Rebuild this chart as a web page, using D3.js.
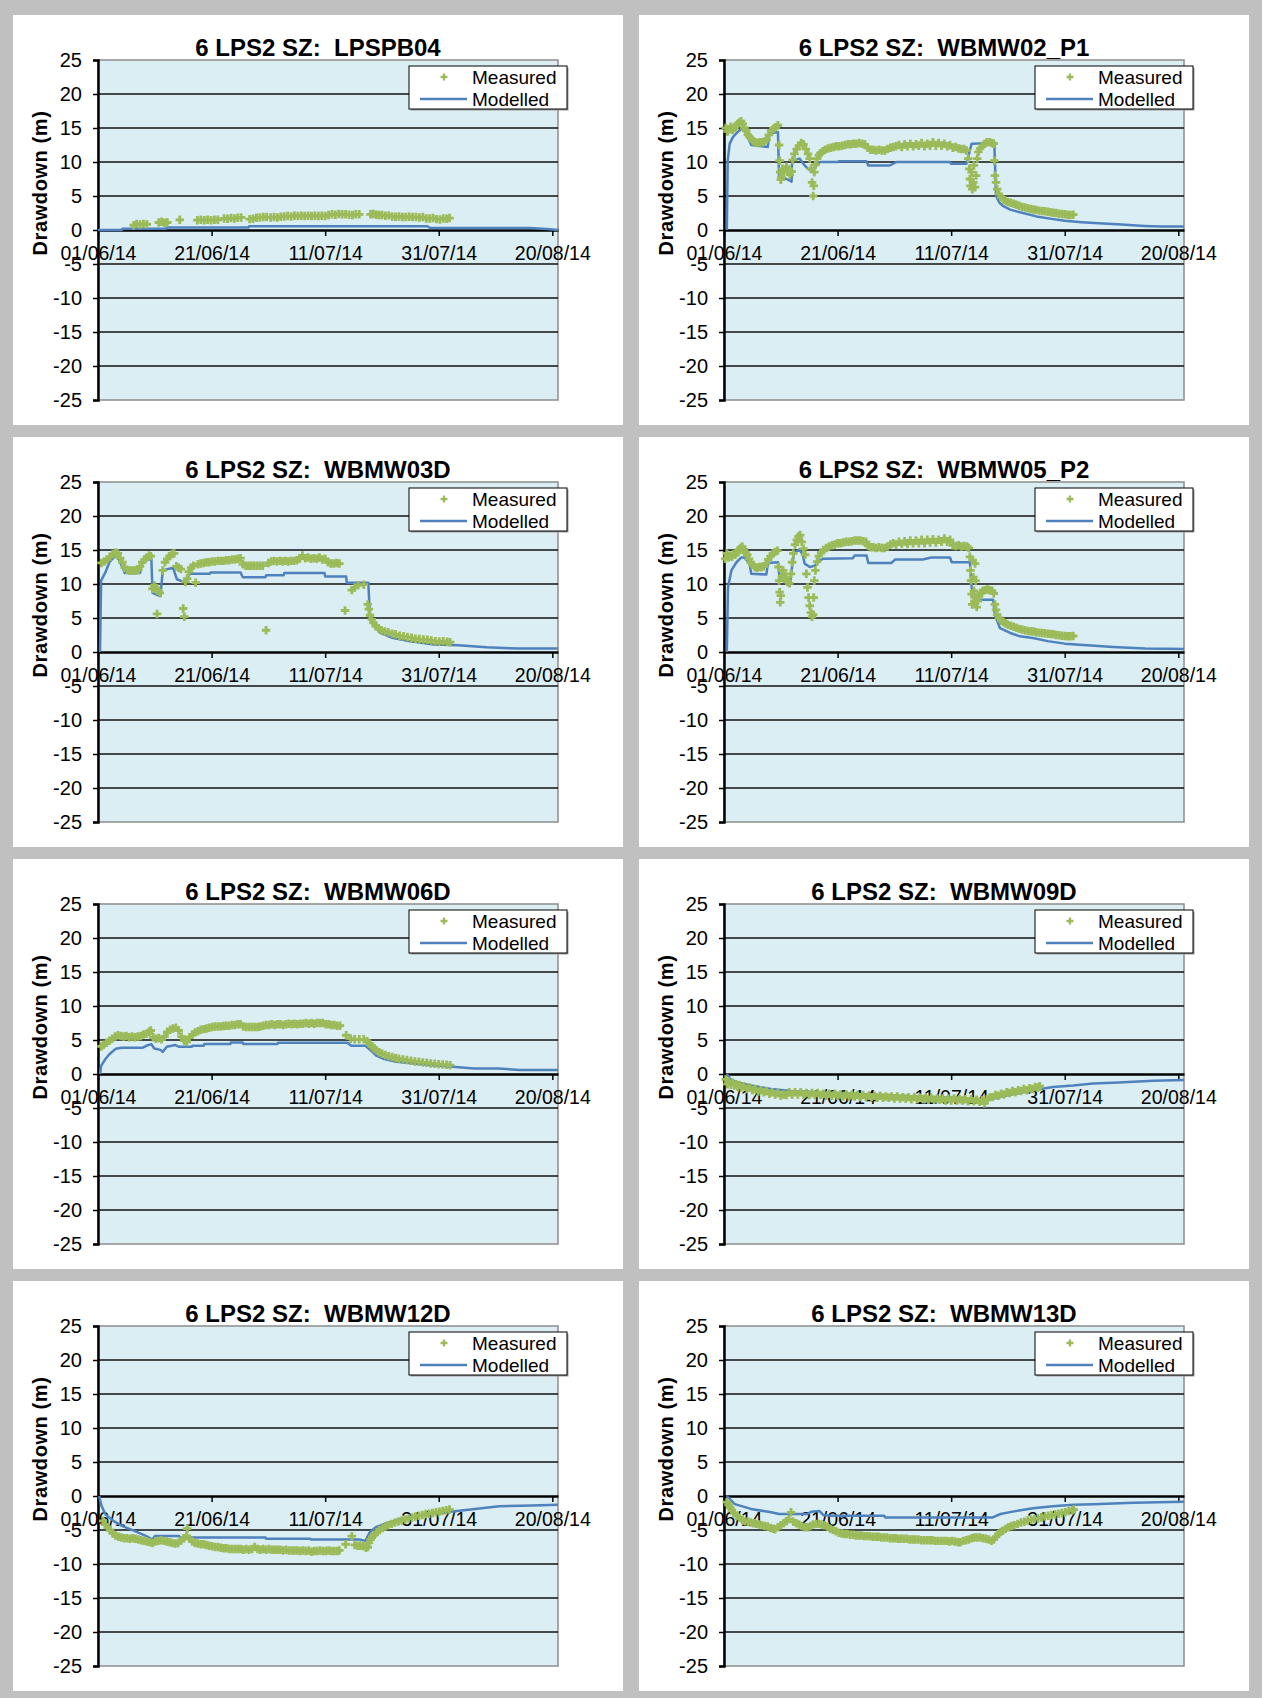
<!DOCTYPE html>
<html>
<head>
<meta charset="utf-8">
<script src="https://cdn.jsdelivr.net/npm/d3@7"></script>
<style>
body { margin: 0; background: #c0c0c0; }
svg text { font-family: "Liberation Sans", Arial, sans-serif; }
</style>
</head>
<body>
<div id="chart"></div>
<script>
var width = 1262, height = 1698;

// x axis: days since 01/06/14
var startDate = Date.UTC(2014, 5, 1);
var xTickDays = [0, 20, 40, 60, 80];
var yTicks = [25, 20, 15, 10, 5, 0, -5, -10, -15, -20, -25];
var titlePrefix = "6 LPS2 SZ:  ";
var wellNames = ["LPSPB04", "WBMW02_P1", "WBMW03D", "WBMW05_P2", "WBMW06D", "WBMW09D", "WBMW12D", "WBMW13D"];
var seriesNames = ["Measured", "Modelled"];

// [day, drawdown (m)]
var lpspb04Modelled = [[0,0],[4.2,0],[4.3,0.2],[12,0.2],[12.1,0.35],[26.5,0.35],[26.6,0.55],[58,0.55],[58.5,0.3],[76,0.3],[79,0.15],[81,0]];
var lpspb04Measured = [[6.3,0.7],[6.8,0.9],[7.4,0.8],[8.0,0.9],[8.6,0.85],[10.7,1.1],[11.2,1.2],[11.7,1.05],[12.2,1.1],[14.4,1.5],
  [17.5,1.45],[18.1,1.5],[18.7,1.45],[19.3,1.5],[19.9,1.45],[20.5,1.5],[21.1,1.5],[22.2,1.7],[22.8,1.65],[23.4,1.75],[24.0,1.7],
  [24.6,1.8],[25.2,1.85],[26.7,1.6],[27.3,1.65],[27.9,1.8],[28.5,1.85],[29.1,1.9],[29.7,1.9],[30.4,1.85],[31.0,1.9],[31.6,1.85],
  [32.2,1.95],[32.8,2.0],[33.4,2.05],[34.0,2.0],[34.6,2.1],[35.2,2.05],[35.8,2.1],[36.4,2.05],[37.0,2.1],[37.6,2.05],[38.2,2.1],
  [38.8,2.05],[39.4,2.1],[40.0,2.05],[40.6,2.2],[41.2,2.3],[41.8,2.25],[42.4,2.35],[43.0,2.3],[43.6,2.3],[44.2,2.25],[44.8,2.2],
  [45.4,2.3],[46.0,2.3],[48.0,2.3],[48.5,2.35],[49.0,2.25],[49.5,2.2],[50.0,2.2],[50.6,2.1],[51.2,2.15],[51.8,2.0],[52.4,1.95],
  [53.0,2.0],[53.6,1.9],[54.2,1.9],[54.8,1.95],[55.4,1.9],[56.0,1.9],[56.6,1.85],[57.2,1.9],[57.8,1.7],[58.4,1.7],[59.0,1.75],
  [59.6,1.6],[60.2,1.55],[60.8,1.7],[61.4,1.65],[61.9,1.75]];

var wbmw02Modelled = [[0.5,0],[0.65,10.2],[1.0,12.7],[1.6,13.7],[2.5,14.5],[3.1,14.9],[3.6,14.8],[3.9,14.2],[4.8,12.5],[7.7,12.2],
  [8.0,14.2],[9.5,14.4],[9.7,7.7],[11.0,7.5],[11.9,7.1],[12.0,10.2],[13.3,10.5],[14.2,9.5],[14.8,9.0],[15.4,8.7],[16.3,9.5],
  [16.9,10.0],[20.1,10.0],[20.2,10.1],[25.1,10.1],[25.4,9.5],[29.2,9.5],[30.4,10.0],[39.8,10.0],[40.0,9.75],[42.7,9.75],
  [43.6,12.7],[47.6,12.8],[47.9,5.0],[48.5,4.0],[49.2,3.5],[50.4,3.0],[52.1,2.6],[55,2.0],[58,1.6],[60,1.35],[63,1.15],
  [66,1.0],[70,0.8],[74,0.6],[77,0.5],[81,0.5]];
var wbmw02Measured = [[0.3,15.0],[0.6,14.5],[0.9,14.8],[1.2,15.2],[1.5,14.7],[1.8,15.0],[2.1,15.3],[2.4,15.6],[2.7,15.8],[3.0,16.0],
  [3.3,15.6],[3.6,15.0],[3.9,14.6],[4.2,14.0],[4.5,13.7],[4.8,13.4],[5.1,13.1],[5.5,12.9],[5.9,12.8],[6.3,12.9],[6.7,12.9],
  [7.1,13.0],[7.5,13.3],[7.9,14.0],[8.3,14.6],[8.7,14.9],[9.1,15.1],[9.5,15.4],[9.7,12.5],[9.8,10.2],[9.9,8.5],[10.0,7.4],
  [10.1,7.8],[10.3,9.0],[10.5,8.6],[10.8,8.9],[11.0,9.3],[11.3,8.6],[11.6,8.1],[11.9,8.6],[12.1,10.3],[12.4,11.2],[12.8,11.9],
  [13.2,12.4],[13.6,12.8],[14.0,12.6],[14.4,11.9],[14.8,11.2],[15.1,10.5],[15.3,9.0],[15.5,7.0],[15.7,5.0],[15.8,6.5],[15.9,8.5],
  [16.1,9.6],[16.4,10.5],[16.7,11.0],[17.0,11.3],[17.4,11.6],[17.8,11.8],[18.3,12.0],[18.8,12.1],[19.3,12.2],[19.8,12.3],
  [20.3,12.3],[20.8,12.4],[21.3,12.5],[21.8,12.6],[22.3,12.6],[22.8,12.7],[23.3,12.7],[23.8,12.8],[24.3,12.7],[24.8,12.6],
  [25.3,12.1],[25.8,11.8],[26.3,11.8],[26.8,11.7],[27.3,11.8],[27.8,11.7],[28.3,11.7],[28.8,11.9],[29.3,12.1],[29.8,12.2],
  [30.3,12.3],[30.8,12.5],[31.3,12.2],[31.8,12.6],[32.3,12.3],[32.8,12.7],[33.3,12.3],[33.8,12.6],[34.3,12.4],[34.8,12.8],
  [35.3,12.3],[35.8,12.7],[36.3,12.4],[36.8,12.9],[37.3,12.4],[37.8,12.8],[38.3,12.4],[38.8,12.7],[39.3,12.3],[39.8,12.5],
  [40.3,12.1],[40.8,12.2],[41.3,12.0],[41.8,11.9],[42.3,11.9],[42.7,11.7],[43.0,10.5],[43.2,9.0],[43.3,7.5],[43.4,6.5],
  [43.6,8.5],[43.7,6.0],[43.9,7.0],[44.0,9.5],[44.2,6.3],[44.4,8.0],[44.6,10.5],[44.8,11.5],[45.1,12.0],[45.5,12.4],[45.9,12.7],
  [46.3,12.9],[46.8,12.9],[47.2,12.8],[47.5,12.7],[47.6,10.2],[47.7,8.0],[47.9,7.0],[48.1,6.0],[48.4,5.3],[48.8,4.8],[49.2,4.5],
  [49.6,4.3],[50.0,4.1],[50.5,4.0],[51.0,3.85],[51.5,3.7],[52.0,3.55],[52.5,3.4],[53.0,3.3],[53.5,3.2],[54.0,3.1],[54.5,3.0],
  [55.0,2.95],[55.5,2.85],[56.0,2.8],[56.5,2.75],[57.0,2.7],[57.5,2.6],[58.0,2.55],[58.5,2.5],[59.0,2.4],[59.5,2.35],[60.0,2.3],
  [60.5,2.25],[61.0,2.2],[61.5,2.25]];

var wbmw03Modelled = [[0.35,0],[0.55,10.5],[1.3,11.7],[2.0,13.2],[3.1,14.2],[3.8,13.4],[4.55,12.0],[4.7,11.6],[7.4,11.6],[7.8,13.4],
  [9.4,13.7],[9.6,8.7],[11.0,8.2],[11.4,12.0],[13.2,12.4],[13.9,10.7],[15.4,10.2],[16.1,11.5],[19.7,11.5],[19.8,11.7],[25.1,11.7],
  [25.5,11.0],[29.5,11.0],[29.6,11.3],[32.7,11.3],[32.8,11.6],[39.9,11.6],[40.0,11.1],[43.7,11.1],[43.8,10.2],[47.6,10.2],
  [47.9,5.0],[48.4,4.05],[49.7,2.8],[51.8,2.1],[54.7,1.6],[59.1,1.1],[63.4,1.0],[68.4,0.7],[74.2,0.5],[81,0.5]];
var wbmw03Measured = [[0.6,13.1],[1.1,13.3],[1.6,13.6],[2.1,14.0],[2.6,14.4],[3.1,14.6],[3.5,14.5],[3.9,13.8],[4.3,13.2],[4.7,12.4],
  [5.1,12.1],[5.5,12.0],[5.9,12.0],[6.3,12.0],[6.7,12.0],[7.1,12.1],[7.4,12.6],[7.8,13.2],[8.2,13.6],[8.6,13.9],[9.0,14.2],
  [9.3,14.1],[9.6,9.3],[9.9,9.8],[10.2,9.4],[10.4,5.6],[10.6,9.0],[10.9,8.7],[11.4,12.0],[11.8,13.2],[12.2,13.7],[12.6,14.1],
  [13.0,14.4],[13.4,14.5],[13.8,12.6],[14.2,12.4],[14.6,12.2],[15.0,6.4],[15.2,5.2],[15.4,10.3],[15.7,10.8],[16.0,11.8],
  [16.4,12.4],[16.8,12.7],[17.2,10.2],[17.6,12.9],[18.1,13.0],[18.6,13.1],[19.1,13.2],[19.6,13.2],[20.1,13.3],[20.6,13.3],
  [21.1,13.4],[21.6,13.4],[22.1,13.4],[22.6,13.5],[23.1,13.5],[23.6,13.6],[24.1,13.6],[24.6,13.7],[25.1,13.8],[25.5,12.9],
  [26.0,12.7],[26.5,12.7],[27.0,12.7],[27.5,12.7],[28.0,12.7],[28.5,12.7],[29.0,12.7],[29.6,3.2],[30.0,13.1],[30.5,13.3],
  [31.0,13.4],[31.5,13.3],[32.0,13.4],[32.5,13.3],[33.0,13.4],[33.5,13.3],[34.0,13.4],[34.5,13.4],[35.0,13.5],[35.5,13.7],
  [36.0,14.2],[36.5,13.8],[37.0,13.9],[37.5,13.7],[38.0,13.8],[38.5,13.7],[39.0,13.9],[39.5,13.6],[40.0,13.7],[40.5,13.2],
  [41.0,13.0],[41.5,13.0],[42.0,13.1],[42.5,13.0],[43.5,6.1],[44.7,9.1],[45.2,9.5],[45.8,9.8],[46.8,9.9],[47.5,7.0],[47.7,6.3],
  [47.9,5.4],[48.2,4.8],[48.5,4.3],[48.9,3.8],[49.4,3.5],[49.9,3.2],[50.5,3.0],[51.1,2.9],[51.8,2.7],[52.4,2.6],[53.1,2.4],
  [53.8,2.3],[54.5,2.2],[55.2,2.1],[55.9,1.95],[56.6,1.9],[57.3,1.85],[58.0,1.8],[58.7,1.7],[59.4,1.6],[60.1,1.55],[60.8,1.6],
  [61.5,1.5],[62.0,1.45]];

var wbmw05Modelled = [[0.5,0],[0.7,9.5],[1.3,12.0],[2.2,13.2],[3.05,13.9],[3.6,13.9],[4.5,13.0],[4.8,11.5],[7.45,11.4],[7.75,13.1],
  [9.5,13.2],[9.8,10.7],[11.0,10.2],[11.6,9.75],[11.9,12.0],[12.3,14.5],[13.3,15.1],[13.9,14.2],[14.2,13.0],[15.1,12.5],
  [16.0,12.7],[16.9,13.5],[17.45,13.7],[22.7,13.8],[23.0,14.2],[25.1,14.2],[25.4,13.1],[29.5,13.1],[30.1,13.6],[35,13.6],
  [36.5,13.9],[39.8,13.9],[40.1,13.2],[43.3,13.2],[43.6,9.5],[44.5,7.7],[47.4,7.7],[47.7,5.5],[48.6,3.5],[50.4,2.8],[52.1,2.3],
  [54.4,2.07],[57,1.6],[60,1.23],[64,1.0],[68.5,0.74],[74.2,0.5],[81,0.45]];
var wbmw05Measured = [[0.2,13.7],[0.5,14.5],[0.8,13.9],[1.1,14.2],[1.4,14.0],[1.7,14.4],[2.0,14.3],[2.3,14.6],[2.6,15.0],[2.9,15.3],
  [3.2,15.5],[3.5,15.1],[3.8,14.6],[4.1,14.3],[4.4,13.7],[4.7,13.2],[5.0,12.8],[5.4,12.5],[5.8,12.4],[6.2,12.5],[6.6,12.5],
  [7.0,12.6],[7.4,13.0],[7.8,13.6],[8.2,14.1],[8.6,14.5],[9.0,14.7],[9.4,14.9],[9.6,12.5],[9.7,10.5],[9.8,8.8],[9.9,7.3],
  [10.0,8.3],[10.2,11.2],[10.4,12.0],[10.6,11.5],[10.8,11.0],[11.0,10.6],[11.2,10.3],[11.5,10.1],[11.8,11.5],[12.0,13.2],
  [12.2,14.5],[12.5,15.8],[12.8,16.5],[13.1,17.0],[13.4,17.2],[13.7,16.2],[14.0,15.2],[14.3,14.3],[14.5,11.5],[14.7,9.5],
  [14.9,8.0],[15.1,6.8],[15.3,5.8],[15.5,5.2],[15.7,5.5],[15.8,8.0],[15.9,10.5],[16.1,12.0],[16.4,13.3],[16.7,14.1],[17.1,14.6],
  [17.5,15.0],[18.0,15.3],[18.5,15.5],[19.0,15.7],[19.5,15.8],[20.0,16.0],[20.5,16.0],[21.0,16.1],[21.5,16.2],[22.0,16.2],
  [22.5,16.3],[23.0,16.4],[23.5,16.4],[24.0,16.4],[24.5,16.3],[25.0,16.2],[25.4,15.6],[25.8,15.4],[26.3,15.4],[26.8,15.3],
  [27.3,15.4],[27.8,15.3],[28.3,15.3],[28.8,15.5],[29.3,15.8],[29.8,16.0],[30.3,15.8],[30.8,16.2],[31.3,15.9],[31.8,16.3],
  [32.3,15.9],[32.8,16.4],[33.3,16.0],[33.8,16.4],[34.3,16.0],[34.8,16.5],[35.3,16.0],[35.8,16.5],[36.3,16.1],[36.8,16.6],
  [37.3,16.1],[37.8,16.5],[38.3,16.2],[38.8,16.7],[39.3,16.2],[39.8,16.5],[40.3,15.7],[40.8,15.6],[41.3,15.7],[41.8,15.5],
  [42.3,15.6],[42.8,15.5],[43.1,15.3],[43.3,14.0],[43.4,12.0],[43.5,10.5],[43.6,8.5],[43.7,7.0],[43.8,13.5],[43.9,11.0],
  [44.0,9.0],[44.1,7.5],[44.2,13.0],[44.3,10.5],[44.4,8.0],[44.5,6.6],[44.7,7.5],[44.9,8.2],[45.2,8.7],[45.6,9.0],[46.0,9.1],
  [46.4,9.2],[46.8,9.1],[47.2,9.0],[47.5,8.6],[47.7,7.0],[47.9,6.2],[48.1,5.5],[48.4,5.0],[48.8,4.6],[49.2,4.4],[49.6,4.2],
  [50.0,4.0],[50.5,3.85],[51.0,3.7],[51.5,3.55],[52.0,3.4],[52.5,3.3],[53.0,3.2],[53.5,3.1],[54.0,3.05],[54.5,3.0],[55.0,2.9],
  [55.5,2.85],[56.0,2.8],[56.5,2.75],[57.0,2.7],[57.5,2.65],[58.0,2.6],[58.5,2.5],[59.0,2.45],[59.5,2.4],[60.0,2.35],
  [60.5,2.3],[61.0,2.3],[61.5,2.35]];

var wbmw06Modelled = [[0.35,0],[0.55,1.2],[1.3,2.2],[2.0,2.9],[3.1,3.7],[4.2,3.85],[7.8,3.85],[8.5,4.15],[9.4,4.4],[9.9,3.75],
  [11.0,3.55],[11.4,3.25],[12.1,4.0],[13.6,4.25],[14.3,4.0],[16.5,4.0],[16.6,4.15],[18.6,4.15],[18.7,4.4],[23.3,4.4],[23.4,4.65],
  [25.5,4.65],[25.6,4.4],[31.6,4.4],[31.7,4.6],[43.9,4.6],[44.6,4.15],[47.1,4.15],[47.8,3.65],[49.0,2.7],[50.4,2.2],[52.5,1.8],
  [54.7,1.6],[59.1,1.3],[61.9,1.1],[66.2,0.8],[70.5,0.8],[74.2,0.6],[81,0.6]];
var wbmw06Measured = [[0.6,4.05],[1.0,4.3],[1.5,4.6],[2.0,4.9],[2.5,5.2],[3.0,5.5],[3.5,5.7],[4.0,5.6],[4.5,5.5],[5.0,5.6],[5.5,5.4],
  [6.0,5.5],[6.5,5.4],[7.0,5.5],[7.5,5.6],[8.0,5.8],[8.5,5.9],[9.0,6.2],[9.3,6.4],[9.7,5.4],[10.2,5.2],[10.7,5.3],[11.2,5.1],
  [11.7,5.5],[12.2,6.2],[12.7,6.5],[13.2,6.7],[13.7,6.8],[14.2,6.4],[14.7,5.5],[15.2,4.9],[15.6,4.7],[16.1,5.4],[16.6,5.8],
  [17.1,6.1],[17.6,6.3],[18.1,6.5],[18.6,6.6],[19.1,6.7],[19.6,6.8],[20.1,6.9],[20.6,7.0],[21.1,7.0],[21.6,7.0],[22.1,7.05],
  [22.6,7.1],[23.1,7.1],[23.6,7.2],[24.1,7.2],[24.6,7.3],[25.1,7.3],[25.6,7.0],[26.1,6.9],[26.6,6.9],[27.1,6.9],[27.6,6.9],
  [28.1,6.9],[28.6,7.0],[29.1,7.1],[29.6,7.2],[30.1,7.2],[30.6,7.3],[31.1,7.2],[31.6,7.3],[32.1,7.3],[32.6,7.2],[33.1,7.3],
  [33.6,7.4],[34.1,7.3],[34.6,7.4],[35.1,7.3],[35.6,7.4],[36.1,7.4],[36.6,7.5],[37.1,7.4],[37.6,7.5],[38.1,7.4],[38.6,7.5],
  [39.1,7.5],[39.6,7.5],[40.1,7.3],[40.6,7.3],[41.1,7.2],[41.6,7.2],[42.1,7.1],[42.6,7.1],[43.7,5.7],[44.5,5.2],[45.2,5.1],
  [46.0,5.1],[46.8,5.1],[47.4,4.8],[47.8,4.5],[48.2,4.1],[48.6,3.8],[49.0,3.5],[49.5,3.2],[50.0,3.0],[50.6,2.8],[51.2,2.6],
  [51.8,2.5],[52.4,2.35],[53.0,2.25],[53.7,2.15],[54.4,2.05],[55.1,1.95],[55.8,1.85],[56.5,1.8],[57.2,1.7],[57.9,1.65],
  [58.6,1.55],[59.3,1.5],[60.0,1.45],[60.7,1.4],[61.4,1.35],[62.0,1.3]];

var wbmw09Modelled = [[0.5,0],[1.2,-0.8],[2.6,-1.3],[4.75,-1.7],[8.3,-2.2],[11.8,-2.5],[18.9,-2.8],[26,-3.0],[33.1,-3.3],[40.2,-3.5],
  [45.9,-3.75],[47.3,-3.65],[50.8,-3.0],[54.4,-2.4],[57.9,-1.9],[61.5,-1.7],[65,-1.4],[68.5,-1.3],[72.1,-1.15],[75.6,-1.0],[81,-0.9]];
var wbmw09Measured = [[0.3,-0.8],[0.6,-1.5],[0.9,-1.1],[1.2,-1.6],[1.5,-1.3],[1.8,-1.7],[2.1,-1.5],[2.4,-1.9],[2.7,-1.6],[3.0,-2.0],
  [3.5,-1.8],[4.0,-2.2],[4.5,-2.0],[5.0,-2.4],[5.5,-2.2],[6.0,-2.6],[6.5,-2.4],[7.0,-2.7],[7.5,-2.5],[8.0,-2.9],[8.5,-2.7],
  [9.0,-3.0],[9.5,-2.8],[10.0,-3.2],[10.5,-3.0],[11.0,-3.1],[11.5,-2.7],[12.0,-3.0],[12.5,-2.7],[13.0,-3.0],[13.5,-2.7],
  [14.0,-3.0],[14.5,-2.8],[15.0,-3.1],[15.5,-2.8],[16.0,-3.1],[16.5,-2.8],[17.0,-3.1],[17.5,-2.9],[18.0,-3.2],[18.5,-2.9],
  [19.0,-3.2],[19.5,-2.9],[20.0,-3.2],[20.5,-3.0],[21.0,-3.3],[21.5,-3.0],[22.0,-3.3],[22.5,-3.1],[23.0,-3.3],[23.5,-3.1],
  [24.0,-3.4],[24.5,-3.1],[25.0,-3.4],[25.5,-3.2],[26.0,-3.4],[26.5,-3.2],[27.0,-3.5],[27.5,-3.2],[28.0,-3.5],[28.5,-3.3],
  [29.0,-3.5],[29.5,-3.3],[30.0,-3.6],[30.5,-3.3],[31.0,-3.6],[31.5,-3.4],[32.0,-3.6],[32.5,-3.4],[33.0,-3.7],[33.5,-3.4],
  [34.0,-3.7],[34.5,-3.5],[35.0,-3.7],[35.5,-3.5],[36.0,-3.8],[36.5,-3.5],[37.0,-3.8],[37.5,-3.6],[38.0,-3.8],[38.5,-3.6],
  [39.0,-3.9],[39.5,-3.6],[40.0,-3.9],[40.5,-3.6],[41.0,-3.9],[41.5,-3.7],[42.0,-3.9],[42.5,-3.7],[43.0,-4.0],[43.5,-3.7],
  [44.0,-4.0],[44.5,-3.8],[45.0,-4.1],[45.5,-3.9],[45.9,-4.3],[46.3,-3.7],[46.8,-3.4],[47.3,-3.4],[47.8,-3.1],[48.3,-3.2],
  [48.8,-2.9],[49.3,-3.0],[49.8,-2.7],[50.3,-2.8],[50.8,-2.5],[51.3,-2.7],[51.8,-2.4],[52.3,-2.5],[52.8,-2.2],[53.3,-2.4],
  [53.8,-2.1],[54.3,-2.2],[54.8,-1.9],[55.3,-2.0],[55.6,-1.8]];

var wbmw12Modelled = [[0.2,0],[0.6,-1.4],[1.3,-2.7],[2.7,-3.65],[4.2,-4.4],[6.3,-5.1],[8.5,-5.9],[9.6,-6.4],[10.0,-5.9],[14.3,-5.9],
  [14.4,-6.1],[29.5,-6.1],[29.6,-6.3],[37.4,-6.3],[37.5,-6.4],[46,-6.4],[47.1,-6.6],[47.8,-5.4],[48.9,-4.6],[51.1,-3.9],
  [54.7,-3.15],[58.3,-2.7],[62,-2.3],[65.6,-2.0],[70.6,-1.5],[76.4,-1.4],[81,-1.3]];
var wbmw12Measured = [[0.9,-3.65],[1.3,-4.2],[1.7,-4.6],[2.1,-5.0],[2.6,-5.5],[3.1,-5.8],[3.6,-6.0],[4.1,-6.1],[4.6,-6.2],[5.1,-6.2],
  [5.6,-6.3],[6.1,-6.2],[6.6,-6.3],[7.1,-6.4],[7.6,-6.5],[8.1,-6.6],[8.6,-6.7],[9.1,-6.8],[9.6,-6.9],[10.1,-6.7],[10.6,-6.6],
  [11.1,-6.5],[11.6,-6.6],[12.1,-6.7],[12.6,-6.8],[13.1,-6.9],[13.6,-7.0],[14.1,-6.9],[14.6,-6.6],[15.1,-6.2],[15.6,-5.9],
  [15.7,-4.8],[16.1,-6.3],[16.6,-6.7],[17.1,-6.9],[17.6,-7.0],[18.1,-7.1],[18.6,-7.1],[19.1,-7.2],[19.6,-7.3],[20.1,-7.4],
  [20.6,-7.5],[21.1,-7.5],[21.6,-7.6],[22.1,-7.7],[22.6,-7.7],[23.1,-7.8],[23.6,-7.8],[24.1,-7.8],[24.6,-7.8],[25.1,-7.8],
  [25.6,-7.9],[26.1,-7.8],[26.6,-7.9],[27.1,-7.8],[27.6,-7.5],[28.1,-7.8],[28.6,-7.9],[29.1,-7.8],[29.6,-7.9],[30.1,-7.8],
  [30.6,-7.9],[31.1,-7.9],[31.6,-7.9],[32.1,-7.9],[32.6,-8.0],[33.1,-7.9],[33.6,-8.0],[34.1,-8.0],[34.6,-8.0],[35.1,-8.0],
  [35.6,-8.1],[36.1,-8.0],[36.6,-8.1],[37.1,-8.0],[37.6,-8.2],[38.1,-8.1],[38.6,-8.1],[39.1,-8.0],[39.6,-8.1],[40.1,-8.1],
  [40.6,-8.0],[41.1,-8.1],[41.6,-8.1],[42.1,-8.1],[42.5,-8.0],[43.6,-7.1],[44.7,-5.9],[45.2,-7.2],[45.7,-7.3],[46.2,-7.3],
  [46.7,-7.4],[47.2,-7.6],[47.5,-7.5],[47.7,-6.9],[48.0,-6.4],[48.3,-6.0],[48.7,-5.7],[49.1,-5.3],[49.6,-5.0],[50.1,-4.7],
  [50.6,-4.5],[51.1,-4.3],[51.7,-4.1],[52.3,-3.9],[52.9,-3.75],[53.5,-3.6],[54.1,-3.45],[54.7,-3.3],[55.3,-3.15],[55.9,-3.0],
  [56.5,-2.9],[57.1,-2.8],[57.7,-2.65],[58.3,-2.6],[58.9,-2.5],[59.5,-2.4],[60.1,-2.3],[60.7,-2.2],[61.3,-2.1],[61.9,-2.0]];

var wbmw13Modelled = [[0.5,0],[1.9,-1.2],[4.75,-1.9],[8.3,-2.4],[9.7,-2.65],[14.7,-2.65],[15.4,-2.3],[16.8,-2.2],[17.5,-2.8],
  [18.5,-2.9],[28.2,-2.9],[28.4,-3.15],[47.3,-3.15],[48.7,-2.65],[50.8,-2.3],[54.4,-1.8],[57.9,-1.5],[61.5,-1.3],[65,-1.2],
  [72.1,-1.0],[81,-0.85]];
var wbmw13Measured = [[0.5,-0.9],[0.8,-1.3],[1.1,-1.7],[1.4,-2.1],[1.8,-2.5],[2.2,-2.9],[2.7,-3.2],[3.2,-3.5],[3.7,-3.7],[4.2,-3.8],
  [4.7,-3.9],[5.2,-4.0],[5.7,-4.1],[6.2,-4.2],[6.7,-4.3],[7.2,-4.4],[7.7,-4.5],[8.2,-4.7],[8.7,-4.8],[9.0,-4.9],[9.5,-4.6],
  [10.0,-4.3],[10.5,-4.0],[11.0,-3.7],[11.4,-3.4],[11.8,-2.4],[12.2,-3.8],[12.7,-4.0],[13.2,-4.2],[13.7,-4.4],[14.2,-4.6],
  [14.7,-4.6],[15.2,-4.4],[15.7,-4.2],[16.2,-4.1],[16.7,-4.1],[17.2,-4.2],[17.7,-4.3],[18.2,-4.5],[18.7,-4.8],[19.2,-5.0],
  [19.7,-5.2],[20.2,-5.4],[20.7,-5.5],[21.2,-5.6],[21.7,-5.6],[22.2,-5.7],[22.7,-5.7],[23.2,-5.8],[23.7,-5.8],[24.2,-5.8],
  [24.7,-5.9],[25.2,-5.9],[25.7,-5.9],[26.2,-6.0],[26.7,-6.0],[27.2,-6.0],[27.7,-6.1],[28.2,-6.1],[28.7,-6.1],[29.2,-6.2],
  [29.7,-6.2],[30.2,-6.2],[30.7,-6.3],[31.2,-6.3],[31.7,-6.3],[32.2,-6.3],[32.7,-6.4],[33.2,-6.4],[33.7,-6.4],[34.2,-6.4],
  [34.7,-6.5],[35.2,-6.5],[35.7,-6.5],[36.2,-6.5],[36.7,-6.5],[37.2,-6.6],[37.7,-6.6],[38.2,-6.6],[38.7,-6.6],[39.2,-6.6],
  [39.7,-6.7],[40.2,-6.6],[40.7,-6.7],[41.2,-6.8],[41.6,-6.8],[42.1,-6.6],[42.6,-6.5],[43.1,-6.4],[43.6,-6.2],[44.1,-6.1],
  [44.6,-6.1],[45.1,-6.1],[45.6,-6.2],[46.1,-6.3],[46.6,-6.4],[47.1,-6.6],[47.5,-6.4],[47.9,-6.0],[48.3,-5.6],[48.7,-5.3],
  [49.1,-5.1],[49.6,-4.8],[50.1,-4.6],[50.6,-4.4],[51.1,-4.3],[51.7,-4.1],[52.3,-3.9],[52.9,-3.8],[53.5,-3.6],[54.1,-3.5],
  [54.7,-3.4],[55.3,-3.3],[55.9,-3.15],[56.5,-3.0],[57.1,-2.9],[57.7,-2.8],[58.3,-2.7],[58.9,-2.6],[59.5,-2.5],[60.1,-2.4],
  [60.7,-2.2],[61.3,-2.1],[61.6,-2.0]];

var measuredSets = [lpspb04Measured, wbmw02Measured, wbmw03Measured, wbmw05Measured, wbmw06Measured, wbmw09Measured, wbmw12Measured, wbmw13Measured];
var modelledSets = [lpspb04Modelled, wbmw02Modelled, wbmw03Modelled, wbmw05Modelled, wbmw06Modelled, wbmw09Modelled, wbmw12Modelled, wbmw13Modelled];

var wells = wellNames.map(function(name, i) {
  return { name: name, measured: measuredSets[i], modelled: modelledSets[i] };
});

var panelW = 610, panelH = 410;
var colX = [13, 639], rowY = [15, 437, 859, 1281];
var plotLeft = 85, plotTop = 45, plotW = 460, plotH = 340;
var fontFamily = "'Liberation Sans', Arial, sans-serif";

function day(d) { return new Date(startDate + d * 864e5); }

var x = d3.scaleUtc().domain([day(0), day(81)]).range([0, plotW]);
var y = d3.scaleLinear().domain([-25, 25]).range([plotH, 0]);

var line = d3.line()
    .x(function(d) { return x(day(d[0])); })
    .y(function(d) { return y(d[1]); });

var marker = d3.symbol().type(d3.symbolCross).size(40);

var svg = d3.select("#chart").append("svg")
    .attr("width", width)
    .attr("height", height);

svg.append("rect")
    .attr("width", width).attr("height", height)
    .attr("fill", "#c0c0c0");

var panels = svg.selectAll("g.panel")
    .data(wells)
    .enter().append("g")
    .attr("class", "panel")
    .attr("transform", function(d, i) {
        return "translate(" + colX[i % 2] + "," + rowY[Math.floor(i / 2)] + ")";
    });

panels.append("rect")
    .attr("width", panelW).attr("height", panelH)
    .attr("fill", "#fff");

panels.append("text")
    .attr("x", panelW / 2).attr("y", 41)
    .attr("text-anchor", "middle")
    .style("white-space", "pre")
    .style("font-size", "24px").style("font-weight", "bold")
    .text(function(d) { return titlePrefix + d.name; });

panels.append("text")
    .attr("transform", "translate(27,168) rotate(-90)")
    .attr("text-anchor", "middle")
    .attr("dominant-baseline", "central")
    .style("font-size", "20px").style("font-weight", "bold")
    .style("letter-spacing", "0.6px")
    .text("Drawdown (m)");

panels.each(function(well) {
    var g = d3.select(this).append("g")
        .attr("transform", "translate(" + plotLeft + "," + plotTop + ")");

    g.append("rect")
        .attr("width", plotW).attr("height", plotH)
        .attr("fill", "#dbeef3")
        .attr("stroke", "#8c8c8c").attr("stroke-width", 1.5);

    // horizontal gridlines
    g.selectAll("line.grid")
        .data(yTicks.filter(function(v) { return v != 25 && v != -25 && v != 0; }))
        .enter().append("line")
        .attr("class", "grid")
        .attr("x1", 0).attr("x2", plotW)
        .attr("y1", function(v) { return y(v); })
        .attr("y2", function(v) { return y(v); })
        .attr("stroke", "#111").attr("stroke-width", 1.7);

    var yAxis = g.append("g")
        .call(d3.axisLeft(y).tickValues(yTicks).tickSize(5).tickPadding(11)
            .tickFormat(function(v) { return String(v); }));
    yAxis.select(".domain").attr("stroke", "#000").attr("stroke-width", 2.5);
    yAxis.selectAll(".tick line").attr("stroke", "#000").attr("stroke-width", 1.5);
    yAxis.selectAll("text").style("font-size", "20px").attr("fill", "#000")
        .style("font-family", fontFamily);

    var xAxis = g.append("g")
        .attr("transform", "translate(0," + y(0) + ")")
        .call(d3.axisBottom(x).tickValues(xTickDays.map(day)).tickSize(6).tickPadding(10)
            .tickSizeOuter(0).tickFormat(d3.utcFormat("%d/%m/%y")));
    xAxis.select(".domain").attr("stroke", "#000").attr("stroke-width", 2.5);
    xAxis.selectAll(".tick line").attr("stroke", "#000").attr("stroke-width", 1.5);
    xAxis.selectAll("text").style("font-size", "19.5px").attr("fill", "#000")
        .style("font-family", fontFamily);

    g.append("path")
        .datum(well.modelled)
        .attr("d", line)
        .attr("fill", "none")
        .attr("stroke", "#4f81bd").attr("stroke-width", 2.5)
        .attr("stroke-linejoin", "round");

    g.selectAll("path.measured")
        .data(well.measured)
        .enter().append("path")
        .attr("class", "measured")
        .attr("d", marker)
        .attr("transform", function(d) { return "translate(" + x(day(d[0])) + "," + y(d[1]) + ")"; })
        .attr("fill", "#9bbb59");

    // legend
    var lg = g.append("g").attr("transform", "translate(311,6)");
    lg.append("rect").attr("x", 1.5).attr("y", 1.5).attr("width", 158).attr("height", 43).attr("fill", "#9a9a9a");
    lg.append("rect").attr("width", 158).attr("height", 43)
        .attr("fill", "#fff").attr("stroke", "#000").attr("stroke-width", 1);
    lg.append("path").attr("d", d3.symbol().type(d3.symbolCross).size(26)).attr("transform", "translate(35,11)").attr("fill", "#9bbb59");
    lg.append("line").attr("x1", 11).attr("x2", 58).attr("y1", 33).attr("y2", 33)
        .attr("stroke", "#4f81bd").attr("stroke-width", 2.5);
    lg.selectAll("text.lab")
        .data(seriesNames)
        .enter().append("text")
        .attr("class", "lab")
        .attr("x", 63).attr("y", function(d, i) { return 18 + i * 22; })
        .style("font-size", "19px")
        .text(function(d) { return d; });
});
</script>
</body>
</html>
